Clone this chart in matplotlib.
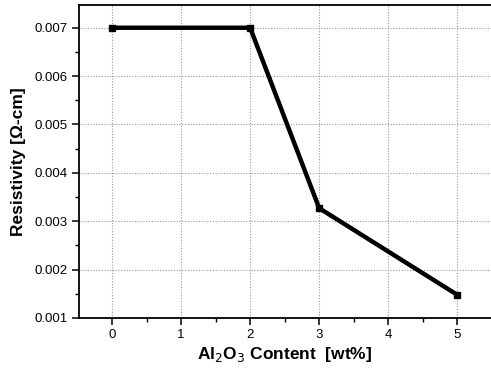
import matplotlib
matplotlib.use("Agg")
import matplotlib.pyplot as plt
from matplotlib.ticker import MultipleLocator

al2o3_wt = [0, 2, 3, 5]
resistivity = [0.0070, 0.0070, 0.00327, 0.00148]
x_ticks = [0, 1, 2, 3, 4, 5]
y_ticks = [0.001, 0.002, 0.003, 0.004, 0.005, 0.006, 0.007]

plt.rcParams['font.family'] = ['Liberation Sans', 'DejaVu Sans']

fig = plt.figure(figsize=(4.91, 3.80), dpi=100)
ax = fig.add_axes([79/491, 1-318/380, 1-79/491, 313/380])

ax.plot(al2o3_wt, resistivity, color='black', lw=3.2, marker='s', ms=5, mfc='black', mec='black')

ax.set_xlim(-0.48, 5.49)
ax.set_ylim(0.001, 0.00747)
ax.set_xticks(x_ticks)
ax.set_xticklabels([str(v) for v in x_ticks])
ax.set_yticks(y_ticks)
ax.set_yticklabels([f"{v:.3f}" for v in y_ticks])
ax.xaxis.set_minor_locator(MultipleLocator(0.5))
ax.yaxis.set_minor_locator(MultipleLocator(0.0005))

ax.grid(True, which='major', color='#999999', linestyle=(0, (1, 1.5)), linewidth=0.8)
ax.spines['right'].set_visible(False)
for s in ['left', 'bottom', 'top']:
    ax.spines[s].set_linewidth(1.3)

ax.tick_params(axis='both', which='major', direction='out', length=5, width=1.1, labelsize=9.5, pad=3)
ax.tick_params(axis='both', which='minor', direction='out', length=3, width=1.0)

ax.set_xlabel(r'Al$_2$O$_3$ Content  [wt%]', fontsize=12.5, fontweight='bold', labelpad=3)
ax.set_ylabel('Resistivity [Ω-cm]', fontsize=12.5, fontweight='bold', labelpad=6)

fig.savefig('out.png', dpi=100)
